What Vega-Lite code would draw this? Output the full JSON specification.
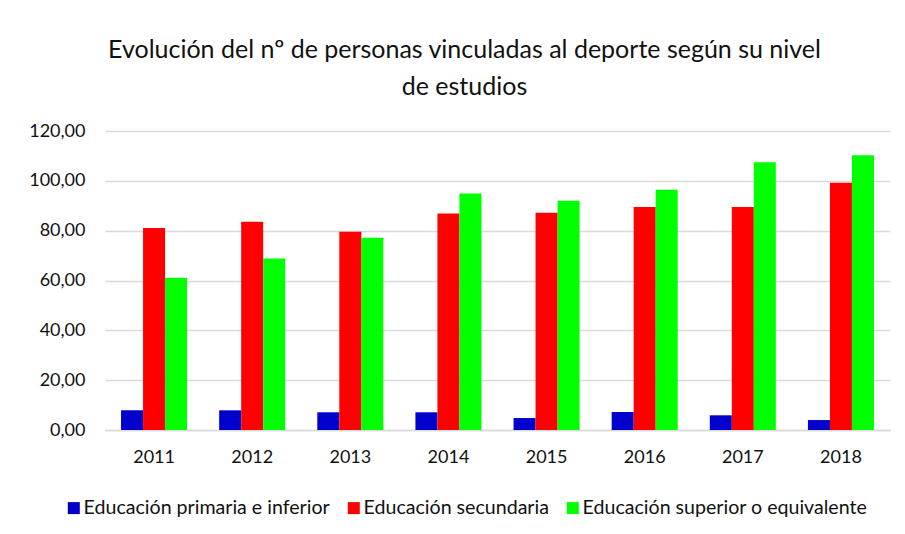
{
  "$schema": "https://vega.github.io/schema/vega-lite/v6.json",
  "width": 785,
  "height": 299,
  "autosize": {"type": "none"},
  "padding": {"left": 105, "top": 131, "right": 15, "bottom": 104},
  "background": "white",
  "title": {
    "text": ["Evolución del nº de personas vinculadas al deporte según su nivel", "de estudios"],
    "anchor": "middle",
    "frame": "group",
    "dx": -33,
    "offset": 22,
    "font": "Lato",
    "fontSize": 25,
    "fontWeight": "normal",
    "color": "#111111",
    "lineHeight": 37
  },
  "data": {
    "values": [
      {"year": "2011", "nivel": "Educación primaria e inferior", "valor": 7.9},
      {"year": "2011", "nivel": "Educación secundaria", "valor": 81.1},
      {"year": "2011", "nivel": "Educación superior o equivalente", "valor": 61.1},
      {"year": "2012", "nivel": "Educación primaria e inferior", "valor": 7.9},
      {"year": "2012", "nivel": "Educación secundaria", "valor": 83.6},
      {"year": "2012", "nivel": "Educación superior o equivalente", "valor": 68.8},
      {"year": "2013", "nivel": "Educación primaria e inferior", "valor": 7.1},
      {"year": "2013", "nivel": "Educación secundaria", "valor": 79.6},
      {"year": "2013", "nivel": "Educación superior o equivalente", "valor": 77.2},
      {"year": "2014", "nivel": "Educación primaria e inferior", "valor": 7.1},
      {"year": "2014", "nivel": "Educación secundaria", "valor": 86.9},
      {"year": "2014", "nivel": "Educación superior o equivalente", "valor": 94.9},
      {"year": "2015", "nivel": "Educación primaria e inferior", "valor": 4.8},
      {"year": "2015", "nivel": "Educación secundaria", "valor": 87.2},
      {"year": "2015", "nivel": "Educación superior o equivalente", "valor": 92.0},
      {"year": "2016", "nivel": "Educación primaria e inferior", "valor": 7.2},
      {"year": "2016", "nivel": "Educación secundaria", "valor": 89.5},
      {"year": "2016", "nivel": "Educación superior o equivalente", "valor": 96.4},
      {"year": "2017", "nivel": "Educación primaria e inferior", "valor": 5.9},
      {"year": "2017", "nivel": "Educación secundaria", "valor": 89.5},
      {"year": "2017", "nivel": "Educación superior o equivalente", "valor": 107.5},
      {"year": "2018", "nivel": "Educación primaria e inferior", "valor": 4.0},
      {"year": "2018", "nivel": "Educación secundaria", "valor": 99.2},
      {"year": "2018", "nivel": "Educación superior o equivalente", "valor": 110.3}
    ]
  },
  "mark": {"type": "bar"},
  "encoding": {
    "x": {
      "field": "year",
      "type": "nominal",
      "scale": {"paddingInner": 0.327, "paddingOuter": 0.1635},
      "axis": {
        "title": null,
        "labelAngle": 0,
        "ticks": false,
        "domainColor": "#d9d9d9",
        "domainWidth": 1.5,
        "labelFont": "Lato",
        "labelFontSize": 18,
        "labelColor": "#111111",
        "labelPadding": 18
      }
    },
    "xOffset": {
      "field": "nivel",
      "type": "nominal",
      "sort": ["Educación primaria e inferior", "Educación secundaria", "Educación superior o equivalente"]
    },
    "y": {
      "field": "valor",
      "type": "quantitative",
      "scale": {"domain": [0, 120]},
      "axis": {
        "title": null,
        "values": [0, 20, 40, 60, 80, 100, 120],
        "labelExpr": "replace(format(datum.value, '.2f'), '.', ',')",
        "domain": false,
        "ticks": false,
        "gridColor": "#d9d9d9",
        "gridWidth": 1.5,
        "labelPadding": 20,
        "labelFont": "Lato",
        "labelFontSize": 18,
        "labelColor": "#111111"
      }
    },
    "color": {
      "field": "nivel",
      "type": "nominal",
      "scale": {
        "domain": ["Educación primaria e inferior", "Educación secundaria", "Educación superior o equivalente"],
        "range": ["#0000CC", "#FF0000", "#00FF00"]
      },
      "legend": {
        "orient": "none",
        "legendX": -41,
        "legendY": 367,
        "direction": "horizontal",
        "title": null,
        "symbolType": "square",
        "symbolSize": 144,
        "symbolStrokeWidth": 0,
        "labelFont": "Lato",
        "labelFontSize": 19.6,
        "labelLimit": 0,
        "labelOffset": 0,
        "labelColor": "#111111",
        "columnPadding": 14
      }
    }
  },
  "config": {"view": {"stroke": null}}
}
